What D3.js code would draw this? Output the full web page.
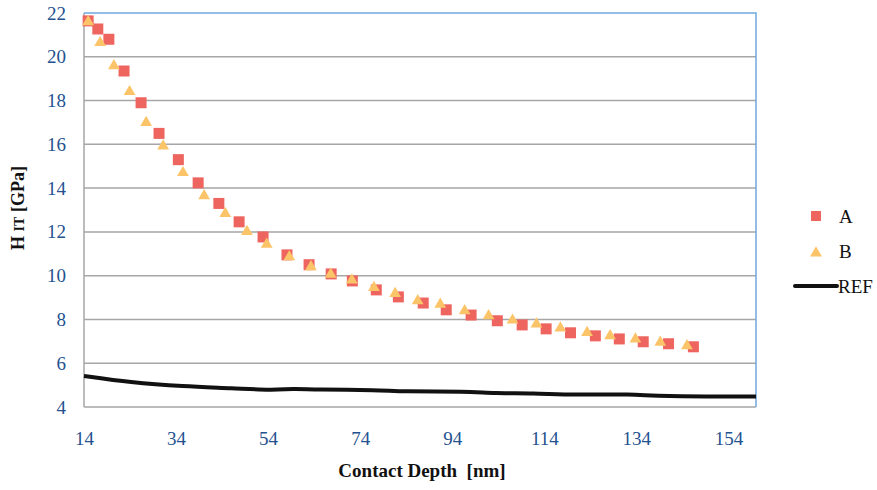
<!DOCTYPE html>
<html lang="en">
  <head>
    <meta charset="utf-8"/>
    <script src="https://d3js.org/d3.v7.min.js"></script>
    <title>Contact Depth vs Hardness</title>
    <style>
      body { margin: 0; background: #fff; }
      svg text { font-family: "Liberation Serif", "DejaVu Serif", serif; }
    </style>
  </head>
  <body>
    <svg id="svg_main"></svg>
    <script>
      const width = 877;
      const height = 490;

      // series A (squares)
      const depthA = [14.9, 17.0, 19.4, 22.7, 26.4, 30.3, 34.5, 38.8, 43.3, 47.7, 52.9, 58.1, 62.9, 67.7, 72.3,
                      77.5, 82.3, 87.7, 92.7, 98.1, 103.8, 109.2, 114.4, 119.7, 125.1, 130.3, 135.5, 141.0, 146.4];
      const hardA = [21.64, 21.27, 20.8, 19.35, 17.9, 16.5, 15.3, 14.24, 13.3, 12.46, 11.77, 10.95, 10.5, 10.08, 9.76,
                     9.35, 9.03, 8.75, 8.44, 8.2, 7.94, 7.75, 7.57, 7.39, 7.25, 7.11, 6.98, 6.89, 6.75];

      // series B (triangles)
      const depthB = [14.9, 17.5, 20.5, 23.9, 27.5, 31.2, 35.5, 40.1, 44.7, 49.4, 53.7, 58.6, 63.3, 67.6, 72.2,
                      77.0, 81.6, 86.5, 91.4, 96.7, 101.9, 107.1, 112.3, 117.5, 123.3, 128.3, 133.8, 139.2, 145.0];
      const hardB = [21.64, 20.69, 19.63, 18.45, 17.04, 15.97, 14.75, 13.69, 12.88, 12.06, 11.48, 10.9, 10.45, 10.11, 9.84,
                     9.5, 9.23, 8.9, 8.74, 8.44, 8.21, 8.01, 7.83, 7.65, 7.45, 7.3, 7.15, 7.0, 6.84];

      // reference curve
      const depthRef = [14, 24, 35.5, 46.4, 55, 59.5, 63.9, 78.3, 82.7, 97.3, 102.9, 111.6, 120.3, 133.3, 138.6, 160];
      const hardRef = [5.42, 5.12, 4.94, 4.86, 4.76, 4.84, 4.79, 4.78, 4.7, 4.71, 4.62, 4.63, 4.55, 4.59, 4.49, 4.48];

      const xTicks = [14, 34, 54, 74, 94, 114, 134, 154];
      const yTicks = [4, 6, 8, 10, 12, 14, 16, 18, 20, 22];

      const plotLeft = 84, plotRight = 756, plotTop = 13, plotBottom = 407;

      let xScale = d3.scaleLinear().domain([14, 160]).range([plotLeft, plotRight]);
      let yScale = d3.scaleLinear().domain([4, 22]).range([plotBottom, plotTop]);

      let svg = d3.select("#svg_main")
          .attr("width", width)
          .attr("height", height);

      // gridlines
      svg.append("g")
          .selectAll("line")
          .data(yTicks.filter(d => d > 4 && d < 22))
          .enter().append("line")
          .attr("x1", plotLeft).attr("x2", plotRight)
          .attr("y1", d => yScale(d)).attr("y2", d => yScale(d))
          .attr("stroke", "#a6a6a6")
          .attr("stroke-width", 1.5);

      // bottom & left axis lines (gray)
      svg.append("line")
          .attr("x1", plotLeft).attr("x2", plotRight)
          .attr("y1", yScale(4)).attr("y2", yScale(4))
          .attr("stroke", "#a6a6a6").attr("stroke-width", 1.5);
      svg.append("line")
          .attr("x1", plotLeft).attr("x2", plotLeft)
          .attr("y1", yScale(22)).attr("y2", yScale(4))
          .attr("stroke", "#a6a6a6").attr("stroke-width", 1.5);

      // top & right border (blue)
      svg.append("path")
          .attr("d", "M" + plotLeft + "," + yScale(22) + "H" + plotRight + "V" + yScale(4))
          .attr("fill", "none")
          .attr("stroke", "#6fa8dc")
          .attr("stroke-width", 1.5);

      // tick labels
      let xAxis = d3.axisBottom(xScale).tickValues(xTicks).tickSize(0).tickPadding(25);
      let xAxis_g = svg.append("g")
          .attr("transform", "translate(0," + plotBottom + ")")
          .call(xAxis);
      let yAxis = d3.axisLeft(yScale).tickValues(yTicks).tickSize(0).tickPadding(18);
      let yAxis_g = svg.append("g")
          .attr("transform", "translate(" + plotLeft + ",0)")
          .call(yAxis);
      [xAxis_g, yAxis_g].forEach(function(g) {
        g.select(".domain").remove();
        g.attr("font-family", null).attr("font-size", null);
        g.selectAll("text")
          .style("font-family", "'Liberation Serif', serif")
          .style("font-size", "19px")
          .attr("fill", "#24528f");
      });

      // REF line
      let refLine = d3.line()
          .x((d, i) => xScale(depthRef[i]))
          .y(d => yScale(d))
          .curve(d3.curveBasis);
      svg.append("path")
          .datum(hardRef)
          .attr("fill", "none")
          .attr("stroke", "#111")
          .attr("stroke-width", 4)
          .attr("stroke-linejoin", "round")
          .attr("d", refLine);

      // series A squares
      svg.append("g")
          .selectAll("rect")
          .data(hardA)
          .enter().append("rect")
          .attr("x", (d, i) => xScale(depthA[i]) - 5.5)
          .attr("y", d => yScale(d) - 5.5)
          .attr("width", 11)
          .attr("height", 11)
          .attr("fill", "#ee6560");

      // series B triangles
      let tri = d3.symbol().type(d3.symbolTriangle).size(60);
      svg.append("g")
          .selectAll("path")
          .data(hardB)
          .enter().append("path")
          .attr("d", tri)
          .attr("transform", (d, i) => "translate(" + xScale(depthB[i]) + "," + (yScale(d) + 1) + ")")
          .attr("fill", "#fcc468");

      // axis titles
      svg.append("text")
          .attr("x", (plotLeft + plotRight) / 2 + 2)
          .attr("y", 477)
          .attr("text-anchor", "middle")
          .attr("font-size", 19)
          .attr("font-weight", "bold")
          .attr("fill", "#111")
          .attr("xml:space", "preserve")
          .text("Contact Depth  [nm]");

      let yTitle = svg.append("text")
          .attr("transform", "translate(24," + ((plotTop + plotBottom) / 2 - 2) + ") rotate(-90)")
          .attr("text-anchor", "middle")
          .attr("font-size", 18)
          .attr("font-weight", "bold")
          .attr("fill", "#111");
      yTitle.append("tspan").text("H ");
      yTitle.append("tspan").attr("font-size", 14).text("IT");
      yTitle.append("tspan").text(" [GPa]");

      // legend
      let legend = svg.append("g").attr("font-size", 19).attr("fill", "#111");
      legend.append("rect")
          .attr("x", 811).attr("y", 211).attr("width", 10).attr("height", 10)
          .attr("fill", "#ee6560");
      legend.append("text").attr("x", 839).attr("y", 223).text("A");
      legend.append("path")
          .attr("d", tri)
          .attr("transform", "translate(816,253)")
          .attr("fill", "#fcc468");
      legend.append("text").attr("x", 839).attr("y", 258).text("B");
      legend.append("line")
          .attr("x1", 795).attr("x2", 837).attr("y1", 286).attr("y2", 286)
          .attr("stroke", "#111").attr("stroke-width", 4).attr("stroke-linecap", "round");
      legend.append("text").attr("x", 838).attr("y", 293).text("REF");
    </script>
  </body>
</html>
